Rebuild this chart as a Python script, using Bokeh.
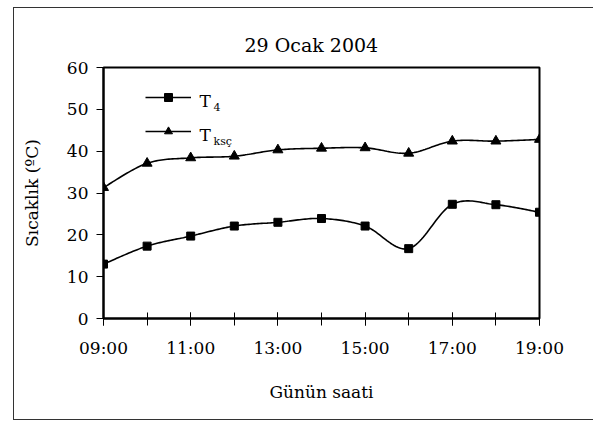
import numpy as np
from bokeh.plotting import figure
from bokeh.models import FixedTicker, Label, Range1d, Legend, LegendItem
from bokeh.embed import file_html
from bokeh.resources import INLINE

# ---- data ----
hours = [9, 10, 11, 12, 13, 14, 15, 16, 17, 18, 19]
t4 = [13.0, 17.3, 19.7, 22.1, 23.0, 23.9, 22.1, 16.7, 27.3, 27.2, 25.4]
tksc = [31.3, 37.1, 38.4, 38.8, 40.3, 40.7, 40.8, 39.5, 42.4, 42.4, 42.8]
tick_hours = [9, 11, 13, 15, 17, 19]
tick_labels = ["09:00", "11:00", "13:00", "15:00", "17:00", "19:00"]
y_ticks = [0, 10, 20, 30, 40, 50, 60]
title_text = "29 Ocak 2004"
x_title = "Günün saati"
y_title = "Sıcaklık (ºC)"

FONT = "DejaVu Serif"
# canvas placed at page (13, 7); the CSS border adds ~1.5px
OX, OY = 14, 9
W, H = 580, 413
FL, FT, FR, FB = 103, 68, 539, 319   # frame edges in page pixels


def smooth(x, y, n=24):
    """Excel-like smoothed line (Catmull-Rom as cubic Bezier)."""
    pts = np.column_stack([x, y]).astype(float)
    P = np.vstack([pts[0], pts, pts[-1]])
    out = []
    for i in range(1, len(P) - 2):
        p0, p1, p2, p3 = P[i - 1], P[i], P[i + 1], P[i + 2]
        c1 = p1 + (p2 - p0) / 6.0
        c2 = p2 - (p3 - p1) / 6.0
        for t in np.linspace(0, 1, n, endpoint=False):
            b = ((1 - t) ** 3) * p1 + 3 * ((1 - t) ** 2) * t * c1 + 3 * (1 - t) * t * t * c2 + t ** 3 * p2
            out.append(b)
    out.append(pts[-1])
    out = np.array(out)
    return out[:, 0], out[:, 1]


p = figure(width=W, height=H, output_backend="svg", toolbar_location=None,
           x_range=Range1d(9, 19), y_range=Range1d(0, 60),
           min_border_left=FL - OX, min_border_right=W - (FR - OX),
           min_border_top=FT - OY, min_border_bottom=H - (FB - OY))
p.margin = (7, 0, 0, 13)
p.styles = {"border-left": "1.5px solid #333333", "border-top": "1.5px solid #333333",
            "border-bottom": "1.5px solid #333333"}
p.background_fill_color = "white"
p.border_fill_color = "white"
p.xgrid.visible = False
p.ygrid.visible = False
p.outline_line_color = "black"
p.outline_line_width = 2

# title
p.title.text = title_text
p.title.text_font = FONT
p.title.text_font_size = "19px"
p.title.text_font_style = "normal"
p.title.text_color = "black"
p.title.align = "left"
p.title.offset = 141
p.title.standoff = 24

# axes
xa = p.xaxis[0]
xa.ticker = FixedTicker(ticks=tick_hours, minor_ticks=hours)
xa.major_label_overrides = {h: l for h, l in zip(tick_hours, tick_labels)}
xa.axis_line_width = 2
xa.axis_line_color = "black"
xa.major_tick_in = 6
xa.major_tick_out = 7
xa.minor_tick_in = 6
xa.minor_tick_out = 7
xa.major_tick_line_color = "black"
xa.minor_tick_line_color = "black"
xa.major_label_text_font = FONT
xa.major_label_text_font_size = "17px"
xa.major_label_text_color = "black"
xa.major_label_standoff = 12
xa.axis_label = x_title
xa.axis_label_text_font = FONT
xa.axis_label_text_font_size = "17px"
xa.axis_label_text_font_style = "normal"
xa.axis_label_text_color = "black"
xa.axis_label_standoff = 21

ya = p.yaxis[0]
ya.ticker = FixedTicker(ticks=y_ticks, minor_ticks=[])
ya.axis_line_width = 2
ya.axis_line_color = "black"
ya.major_tick_in = 0
ya.major_tick_out = 7
ya.minor_tick_line_color = None
ya.major_tick_line_color = "black"
ya.major_label_text_font = FONT
ya.major_label_text_font_size = "17px"
ya.major_label_text_color = "black"
ya.major_label_standoff = 8
ya.axis_label = y_title
ya.axis_label_text_font = FONT
ya.axis_label_text_font_size = "17px"
ya.axis_label_text_font_style = "normal"
ya.axis_label_text_color = "black"
ya.axis_label_standoff = 22

# series
sx, sy = smooth(hours, t4)
l1 = p.line(sx, sy, line_color="black", line_width=1.6)
m1 = p.scatter(hours, t4, marker="square", size=8, fill_color="black", line_color="black")
sx2, sy2 = smooth(hours, tksc)
l2 = p.line(sx2, sy2, line_color="black", line_width=1.6)
m2 = p.scatter(hours, tksc, marker="triangle", size=10, fill_color="black", line_color="black")

legend = Legend(items=[LegendItem(label=" ", renderers=[l1, m1]),
                       LegendItem(label=" ", renderers=[l2, m2])],
                location=(42, 177), orientation="vertical",
                glyph_width=46, glyph_height=20, spacing=14, padding=0, margin=0,
                border_line_color=None, background_fill_alpha=0,
                label_text_font_size="1px", label_width=1, label_standoff=0)
p.add_layout(legend, "center")


# legend texts in screen units (relative to frame: x from left, y up from bottom)
def lab(text, px, py, size, align="left", baseline="alphabetic"):
    return Label(text=text, x=px - FL, y=FB - py, x_units="screen", y_units="screen",
                 text_font=FONT, text_font_size=size, text_color="black",
                 text_align=align, text_baseline=baseline)


p.add_layout(lab("T", 199, 101, "17px"))
p.add_layout(lab("4", 213, 107, "11px"))
p.add_layout(lab("T", 199, 135, "17px"))
p.add_layout(lab("ksç", 213, 142, "11px"))

open("out.html", "w").write(file_html(p, INLINE))
